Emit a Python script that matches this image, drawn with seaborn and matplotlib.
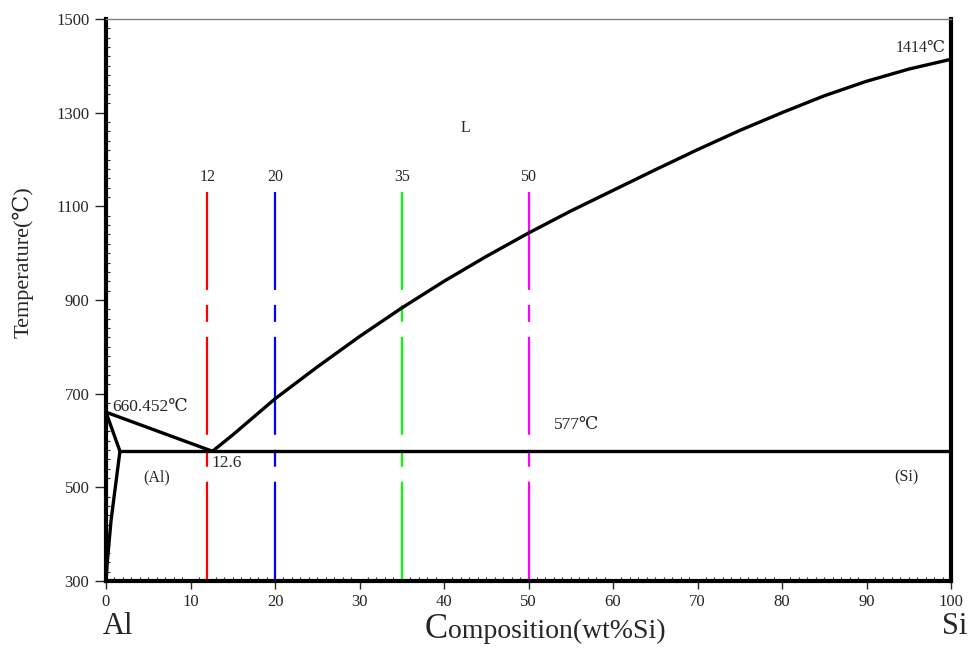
import matplotlib
matplotlib.use("Agg")
from matplotlib import pyplot as plt
import seaborn as sns
import pandas as pd

# 相図のデータ (Al-Si)
liq_si = [12.6, 15, 20, 25, 30, 35, 40, 45, 50, 55, 60, 65, 70, 75, 80, 85, 90, 95, 100]
liq_t = [577, 612, 689, 757, 822, 883, 940, 993, 1043, 1090, 1134, 1178,
         1221, 1262, 1300, 1336, 1367, 1393, 1414]
al_liq_si = [0, 12.6]
al_liq_t = [660.452, 577]
solidus_si = [0, 1.65]
solidus_t = [660.452, 577]
solvus_si = [1.65, 0.6, 0.15, 0]
solvus_t = [577, 430, 340, 300]
eut_si = [1.65, 100]
eut_t = [577, 577]
comp = [12, 20, 35, 50]
comp_colors = ["#ff0000", "#0000ff", "#00ff00", "#ff00ff"]
comp_top = 1131

sns.set_style("white")
plt.rcParams['font.family'] = ['Liberation Serif', 'DejaVu Serif']
plt.rcParams['lines.scale_dashes'] = False

fig = plt.figure(figsize=(9.73, 6.53), dpi=100)
ax = fig.add_axes([106/973, 1-581/653, (951-106)/973, (581-19)/653])

# 組成の破線
for c, col in zip(comp, comp_colors):
    ax.plot([c, c], [comp_top, 300], color=col, lw=1.6,
            linestyle=(0, (70.5, 10.8, 12.2, 10.8)), zorder=2)
    ax.text(c, 1163, str(c), ha="center", va="center", fontsize=11.5)

# 液相線・固相線など
for xs, ys in [(liq_si, liq_t), (al_liq_si, al_liq_t), (solidus_si, solidus_t),
               (solvus_si, solvus_t), (eut_si, eut_t)]:
    df = pd.DataFrame({"x": xs, "y": ys})
    sns.lineplot(data=df, x="x", y="y", sort=False, estimator=None,
                 color="black", lw=2.4, ax=ax, zorder=3)

ax.set_xlim(0, 100)
ax.set_ylim(300, 1500)
ax.set_xticks(range(0, 101, 10))
ax.set_yticks(range(300, 1501, 200))
ax.set_xticks(range(0, 101, 1), minor=True)
ax.set_yticks(range(300, 1501, 20), minor=True)
ax.tick_params(which="major", direction="out", length=6, width=1, labelsize=12, pad=3)
ax.tick_params(axis="y", which="major", length=8, pad=4)
ax.tick_params(which="minor", direction="in", length=3, width=0.8)
ax.tick_params(which="both", top=False, right=False, bottom=True, left=True)
for s in ["left", "bottom", "right"]:
    ax.spines[s].set_linewidth(3)
    ax.spines[s].set_color("black")
ax.spines["top"].set_linewidth(1)
ax.spines["top"].set_color("#808080")
ax.set_xlabel("")
ax.set_ylabel("")

fig.text(23/973, 1-262/653, "Temperature(℃)", rotation=90, ha="center", va="center",
         fontsize=16)

# 注釈
ax.text(42.5, 1267, "L", ha="center", va="center", fontsize=11.5)
ax.text(99.3, 1438, "1414℃", ha="right", va="center", fontsize=11.5)
ax.text(0.7, 671, "660.452℃", ha="left", va="center", fontsize=12.5)
ax.text(53, 633, "577℃", ha="left", va="center", fontsize=12.5)
ax.text(12.5, 552, "12.6", ha="left", va="center", fontsize=12.5)
ax.text(6.0, 522, "(Al)", ha="center", va="center", fontsize=11.5)
ax.text(94.7, 522, "(Si)", ha="center", va="center", fontsize=11.5)

fig.text(118/973, 1-634/653, "Al", ha="center", va="baseline", fontsize=22)
fig.text(955/973, 1-634/653, "Si", ha="center", va="baseline", fontsize=22)
fig.text(448/973, 1-638/653, "C", ha="right", va="baseline", fontsize=25)
fig.text(448/973, 1-638/653, "omposition(wt%Si)", ha="left", va="baseline", fontsize=20)

plt.savefig("out.png", dpi=100)
